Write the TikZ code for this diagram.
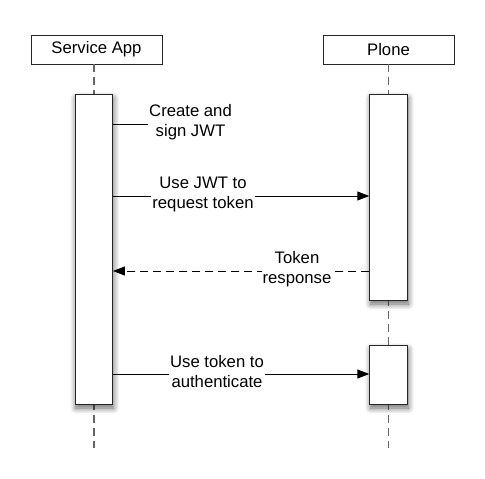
\documentclass[tikz,border=0pt]{standalone}
\usepackage{fontspec}
\setmainfont{Liberation Sans}
\usetikzlibrary{arrows.meta,shadows.blur}
\tikzset{
  actor/.style={draw=black!85, line width=0.9pt, fill=white, minimum width=131pt, minimum height=29pt, inner sep=0pt, font=\fontsize{16.7}{20}\selectfont},
  act/.style={draw=black!85, line width=0.9pt, fill=white, minimum width=37.5pt, inner sep=0pt,
    blur shadow={shadow xshift=1pt, shadow yshift=-4pt, shadow blur steps=8, shadow blur radius=6pt, shadow opacity=60}},
  life/.style={draw=black!60, line width=1.6pt, dash pattern=on 8pt off 5pt},
  msg/.style={draw=black, line width=0.9pt},
  arr/.style={msg, -{Triangle[length=12pt,width=9pt]}},
  lbl/.style={fill=white, inner sep=1pt, align=center, font=\fontsize{16.7}{20}\selectfont},
}
\begin{document}
\begin{tikzpicture}[x=1pt,y=-1pt]
\useasboundingbox (0,0) rectangle (485,479);
% actors
\node[actor] (sa) at (96.5,49.5) {Service App};
\node[actor] (pl) at (388.5,49.5) {Plone};
% lifeline coordinates
\coordinate (saTop) at (93.7,64);
\coordinate (saBot) at (93.7,448);
\coordinate (plTop) at (388.5,64);
\coordinate (plBot) at (388.5,448);
\draw[life] (saTop) -- (saBot);
\draw[life] (plTop) -- (plBot);
% activations
\node[act, minimum height=310pt] (aL) at (93.7,249) {};
\node[act, minimum height=206pt] (aR1) at (388.5,197) {};
\node[act, minimum height=59pt] (aR2) at (388.5,374.5) {};
% message 1: self note
\coordinate (m0s) at (aL.east |- 0,124);
\node[lbl, anchor=west] (t0) at (148,122) {Create and\\sign JWT};
\draw[msg] (m0s) -- (m0s -| t0.west);
% message 2
\coordinate (m1s) at (aL.east |- 0,196);
\coordinate (m1e) at (aR1.west |- 0,196);
\draw[arr] (m1s) -- (m1e);
\node[lbl] (t1) at (203,194) {Use JWT to\\request token};
% message 3 dashed
\coordinate (m2s) at (aR1.west |- 0,271);
\coordinate (m2e) at (aL.east |- 0,271);
\draw[arr, dash pattern=on 8pt off 5pt] (m2s) -- (m2e);
\node[lbl] (t2) at (297,269) {Token\\response};
% message 4
\coordinate (m3s) at (aL.east |- 0,374);
\coordinate (m3e) at (aR2.west |- 0,374);
\draw[arr] (m3s) -- (m3e);
\node[lbl] (t3) at (217,372) {Use token to\\authenticate};
\end{tikzpicture}
\end{document}
